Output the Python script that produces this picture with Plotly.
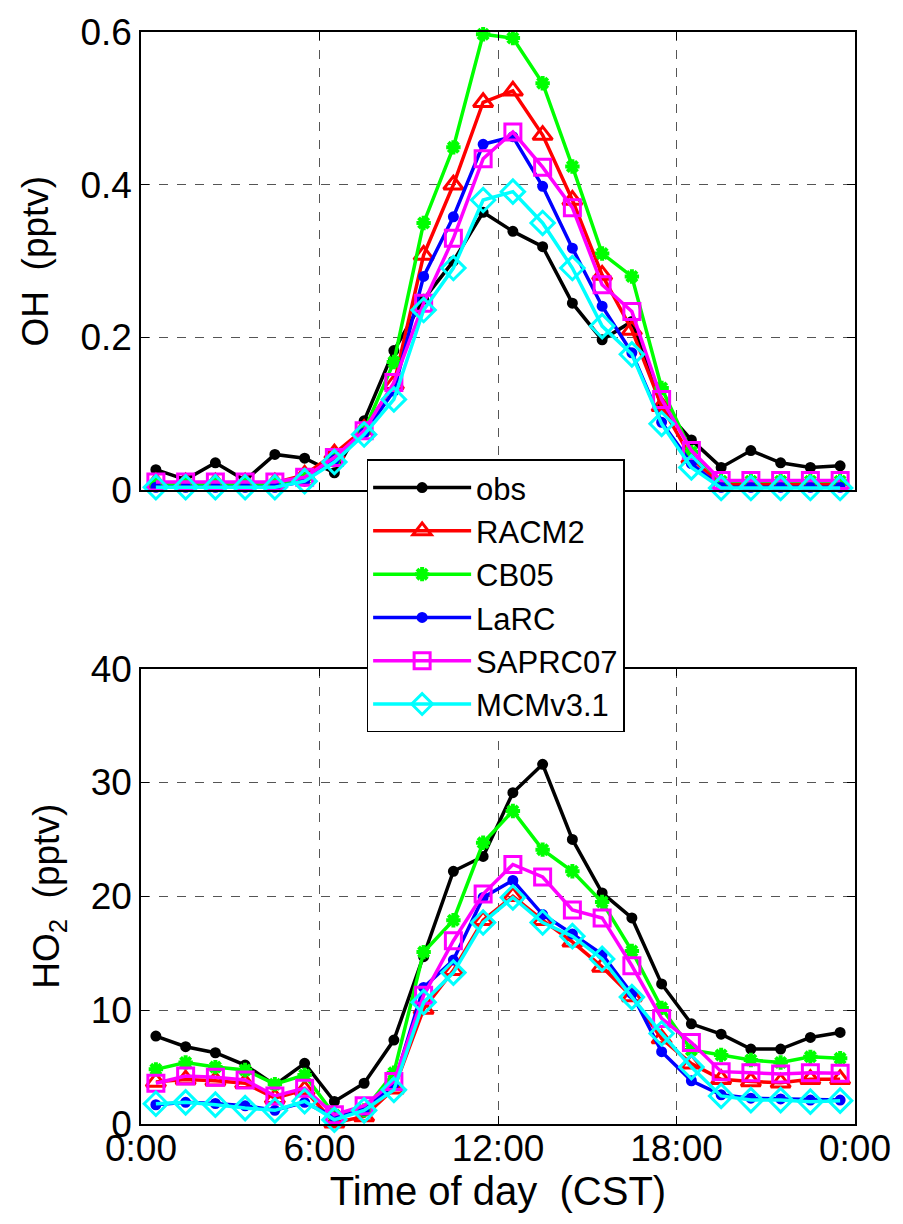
import plotly.graph_objects as go

hours = [h + 0.5 for h in range(24)]

oh_obs = [0.027, 0.014, 0.036, 0.013, 0.047, 0.042, 0.023, 0.091, 0.183, 0.25, 0.30, 0.364,
          0.339, 0.319, 0.245, 0.197, 0.221, 0.11, 0.066, 0.030, 0.052, 0.036, 0.030, 0.032]
oh_racm2 = [0.01, 0.01, 0.01, 0.01, 0.01, 0.02, 0.048, 0.08, 0.139, 0.308, 0.40, 0.508,
            0.523, 0.465, 0.38, 0.282, 0.21, 0.11, 0.042, 0.008, 0.008, 0.008, 0.008, 0.008]
oh_cb05 = [0.008, 0.008, 0.008, 0.008, 0.008, 0.015, 0.04, 0.078, 0.168, 0.35, 0.449, 0.597,
           0.592, 0.533, 0.424, 0.31, 0.28, 0.134, 0.05, 0.012, 0.012, 0.012, 0.012, 0.012]
oh_larc = [0.004, 0.004, 0.004, 0.004, 0.004, 0.012, 0.04, 0.075, 0.13, 0.28, 0.358, 0.453,
           0.463, 0.398, 0.317, 0.241, 0.18, 0.089, 0.035, 0.004, 0.004, 0.004, 0.004, 0.004]
oh_saprc = [0.011, 0.011, 0.011, 0.011, 0.011, 0.017, 0.043, 0.078, 0.141, 0.245, 0.33, 0.434,
            0.469, 0.423, 0.37, 0.269, 0.234, 0.119, 0.052, 0.013, 0.013, 0.013, 0.013, 0.013]
oh_mcm = [0.004, 0.004, 0.004, 0.004, 0.004, 0.012, 0.037, 0.073, 0.119, 0.236, 0.291, 0.380,
          0.391, 0.350, 0.291, 0.215, 0.178, 0.087, 0.03, 0.003, 0.003, 0.003, 0.003, 0.003]

ho2_obs = [7.72, 6.79, 6.26, 5.18, 3.43, 5.33, 1.98, 3.58, 7.37, 14.7, 22.2, 23.5,
           29.1, 31.6, 25.0, 20.3, 18.1, 12.3, 8.8, 7.89, 6.58, 6.58, 7.6, 8.04]
ho2_racm2 = [3.7, 3.9, 3.8, 3.58, 2.27, 3.0, 0.1, 0.66, 3.1, 10.1, 13.5, 17.9,
             20.0, 17.9, 16.0, 13.8, 11.2, 7.5, 5.3, 3.93, 3.73, 3.63, 3.93, 3.93]
ho2_cb05 = [4.8, 5.4, 5.0, 4.75, 3.5, 4.3, 0.8, 1.2, 4.5, 15.1, 17.9, 24.7,
            27.5, 24.1, 22.2, 19.5, 15.2, 10.2, 6.5, 6.06, 5.62, 5.4, 5.9, 5.77]
ho2_larc = [1.69, 1.9, 1.8, 1.6, 1.2, 1.9, 0.6, 1.2, 3.5, 12.0, 14.4, 19.9,
            21.4, 18.4, 16.7, 14.9, 11.45, 6.35, 3.8, 2.56, 2.27, 2.2, 2.1, 2.1]
ho2_saprc = [3.58, 4.22, 4.1, 3.87, 2.47, 3.15, 0.81, 1.6, 3.73, 11.3, 16.1, 20.2,
             22.8, 21.7, 18.8, 18.1, 13.9, 9.27, 7.15, 4.6, 4.5, 4.4, 4.5, 4.46]
ho2_mcm = [1.78, 1.9, 1.7, 1.4, 1.2, 2.0, 0.37, 1.2, 3.0, 10.7, 13.3, 17.7,
           19.9, 17.7, 16.5, 14.5, 11.15, 7.95, 5.0, 2.47, 2.1, 2.1, 1.96, 2.05]

x_tickvals = [0, 6, 12, 18, 24]
x_ticktext = ["0:00", "6:00", "12:00", "18:00", "0:00"]

names = ["obs", "RACM2", "CB05", "LaRC", "SAPRC07", "MCMv3.1"]
colors = ["#000000", "#ff0000", "#00ff00", "#0000ff", "#ff00ff", "#00ffff"]
symbols = ["circle", "triangle-up-open", "asterisk-open", "circle", "square-open", "diamond-open"]
msizes = [8, 17, 12, 8, 16, 18]
oh_series = [oh_obs, oh_racm2, oh_cb05, oh_larc, oh_saprc, oh_mcm]
ho2_series = [ho2_obs, ho2_racm2, ho2_cb05, ho2_larc, ho2_saprc, ho2_mcm]

FONT = "Arial, Liberation Sans, Helvetica, sans-serif"

fig = go.Figure()
for i in range(6):
    for series, xa, ya, show in [(oh_series[i], "x", "y", True), (ho2_series[i], "x2", "y2", False)]:
        fig.add_trace(go.Scatter(
            x=hours, y=series, xaxis=xa, yaxis=ya, name=names[i], showlegend=show,
            mode="lines+markers", cliponaxis=False,
            line=dict(color=colors[i], width=3.5),
            marker=dict(symbol=symbols[i], size=msizes[i], color=colors[i],
                        line=dict(color=colors[i], width=4 if symbols[i] == "asterisk-open" else 3)),
        ))

axis_common = dict(
    showline=True, linecolor="black", linewidth=1.5, mirror="allticks",
    ticks="inside", ticklen=8, tickcolor="black", tickwidth=1,
    showgrid=True, gridcolor="#555555", griddash="dash", gridwidth=1,
    zeroline=False, tickfont=dict(family=FONT, size=37, color="black"),
)

fig.update_layout(
    width=903, height=1224,
    margin=dict(l=141, r=44, t=28, b=100),
    paper_bgcolor="white", plot_bgcolor="white",
    font=dict(family=FONT, color="black"),
    xaxis=dict(domain=[0, 1], range=[0, 24], tickvals=x_tickvals, ticktext=x_ticktext,
               showticklabels=False, anchor="y", **axis_common),
    yaxis=dict(domain=[0.5803, 1], range=[0, 0.6], tickvals=[0, 0.2, 0.4, 0.6],
               ticktext=["0", "0.2", "0.4", "0.6"], anchor="x",
               title=dict(text="OH  (pptv)", font=dict(family=FONT, size=37), standoff=20),
               **axis_common),
    xaxis2=dict(domain=[0, 1], range=[0, 24], tickvals=x_tickvals, ticktext=x_ticktext,
                anchor="y2", ticklabelstandoff=-9,
                title=dict(text="Time of day  (CST)", font=dict(family=FONT, size=40), standoff=0),
                **axis_common),
    yaxis2=dict(domain=[0, 0.417], range=[0, 40], tickvals=[0, 10, 20, 30, 40], anchor="x2",
                title=dict(text="HO<sub>2</sub>  (pptv)", font=dict(family=FONT, size=37), standoff=20),
                **axis_common),
    legend=dict(x=0.316, y=0.6086, xanchor="left", yanchor="top",
                bgcolor="white", bordercolor="black", borderwidth=1.5,
                font=dict(family=FONT, size=31, color="black"),
                itemwidth=98, tracegroupgap=0),
    showlegend=True,
)

fig.write_html("out.html")
